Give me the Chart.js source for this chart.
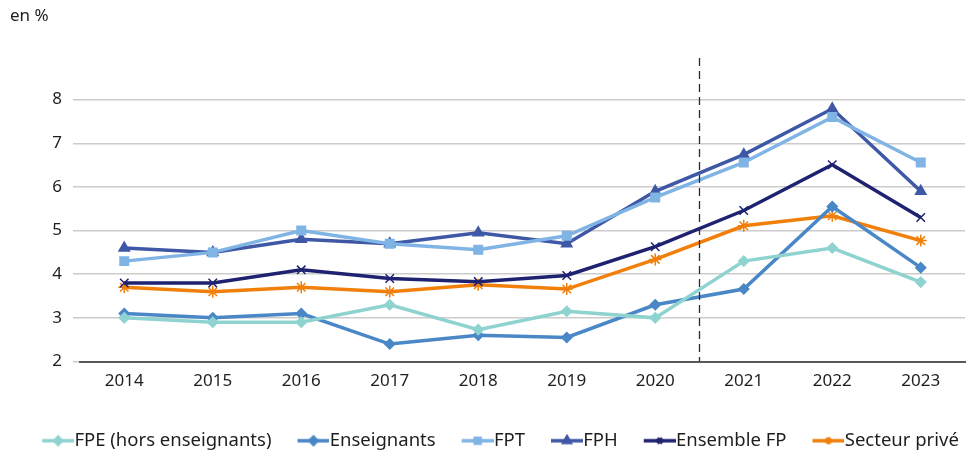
<!DOCTYPE html>
<html>
<head>
<meta charset="utf-8">
<script src="https://cdn.jsdelivr.net/npm/chart.js@4"></script>
<style>
  body { margin: 0; background: #fff; }
  #wrap { position: relative; width: 977px; height: 452px; }
  #unit { position: absolute; left: 10px; top: 3px; font: 17px "Noto Sans", sans-serif; color: #1e1e1e; }
</style>
</head>
<body>
<div id="wrap">
  <div id="unit">en %</div>
  <canvas id="chart" width="977" height="452"></canvas>
</div>
<script>
const years = ['2014', '2015', '2016', '2017', '2018', '2019', '2020', '2021', '2022', '2023'];
const fpe = [3.0, 2.9, 2.9, 3.3, 2.73, 3.15, 3.0, 4.3, 4.6, 3.82];
const enseignants = [3.1, 3.0, 3.1, 2.4, 2.6, 2.55, 3.3, 3.66, 5.55, 4.15];
const fpt = [4.3, 4.5, 5.0, 4.7, 4.56, 4.88, 5.76, 6.56, 7.6, 6.56];
const fph = [4.6, 4.5, 4.8, 4.7, 4.95, 4.7, 5.9, 6.74, 7.79, 5.9];
const ensemble = [3.8, 3.8, 4.1, 3.9, 3.83, 3.97, 4.63, 5.46, 6.51, 5.3];
const prive = [3.7, 3.6, 3.7, 3.6, 3.76, 3.66, 4.34, 5.11, 5.34, 4.77];
const yTicks = [2, 3, 4, 5, 6, 7, 8];

function serie(label, data, color, style, radius) {
    return {
        label: label,
        data: data,
        borderColor: color,
        backgroundColor: color,
        pointBackgroundColor: color,
        pointBorderColor: color,
        pointStyle: style,
        pointRadius: radius,
        pointBorderWidth: 1.5,
        borderWidth: 3.5,
        tension: 0
    };
}

const datasets = [
    serie('FPE (hors enseignants)', fpe, '#8fd3d1', 'rectRot', 5),
    serie('Enseignants', enseignants, '#4a87c7', 'rectRot', 5),
    serie('FPT', fpt, '#7fb4e4', 'rect', 6),
    serie('FPH', fph, '#3f58a6', 'triangle', 6),
    serie('Ensemble FP', ensemble, '#1f2270', 'crossRot', 6),
    serie('Secteur privé', prive, '#f17f0a', 'star', 6)
];

// legend icon: blank space on the left (item gap), then a 32px line with marker
// that ends where the label text starts
const ICON_BOX = 47;
function legendIcon(ds) {
    const w = ICON_BOX + 18;
    const c = document.createElement('canvas');
    c.width = w; c.height = 14;
    const ctx = c.getContext('2d');
    ctx.strokeStyle = ds.borderColor;
    ctx.lineWidth = 3.5;
    ctx.beginPath(); ctx.moveTo(w - 32, 7); ctx.lineTo(w, 7); ctx.stroke();
    ctx.fillStyle = ds.borderColor;
    Chart.helpers.drawPoint(ctx, {
        pointStyle: ds.pointStyle, radius: 3.5, borderWidth: 1.5
    }, w - 16, 7);
    return c;
}

const dashedLine = {
    id: 'dashedLine',
    afterDatasetsDraw(chart) {
        const x = chart.scales.x;
        const y = chart.scales.y;
        const px = (x.getPixelForValue(6) + x.getPixelForValue(7)) / 2;
        const ctx = chart.ctx;
        ctx.save();
        ctx.strokeStyle = '#2a2a2a';
        ctx.lineWidth = 1.3;
        ctx.setLineDash([8, 5]);
        ctx.beginPath();
        ctx.moveTo(px, y.getPixelForValue(9) + 2);
        ctx.lineTo(px, y.getPixelForValue(2));
        ctx.stroke();
        ctx.restore();
    }
};

new Chart(document.getElementById('chart'), {
    type: 'line',
    data: { labels: years, datasets: datasets },
    plugins: [dashedLine],
    options: {
        responsive: false,
        animation: false,
        layout: { padding: { left: 0, right: 0, top: 56, bottom: -8 } },
        plugins: {
            tooltip: { enabled: false },
            legend: {
                position: 'bottom',
                labels: {
                    font: { family: 'Noto Sans', size: 18.5 },
                    color: '#1e1e1e',
                    usePointStyle: true,
                    pointStyleWidth: ICON_BOX,
                    padding: 2,
                    generateLabels(chart) {
                        return chart.data.datasets.map((ds, i) => ({
                            text: ds.label,
                            pointStyle: legendIcon(ds),
                            fillStyle: ds.borderColor,
                            strokeStyle: ds.borderColor,
                            lineWidth: 0,
                            fontColor: '#1e1e1e',
                            datasetIndex: i
                        }));
                    }
                }
            }
        },
        scales: {
            x: {
                offset: true,
                grid: { display: false, drawTicks: false },
                border: { color: '#595959', width: 2 },
                ticks: { font: { family: 'Noto Sans', size: 17 }, color: '#1e1e1e', padding: 9 },
                afterFit(axis) { axis.height = 68; }
            },
            y: {
                min: 2,
                max: 9,
                afterBuildTicks(axis) { axis.ticks = yTicks.map(v => ({ value: v })); },
                grid: { color: '#cccccc', lineWidth: 1.5, drawTicks: true, tickLength: 7, tickColor: '#cccccc' },
                border: { display: false },
                ticks: { font: { family: 'Noto Sans', size: 17 }, color: '#1e1e1e', padding: 11 },
                afterFit(axis) { axis.width = 80; }
            },
            // empty right margin so the plot stops where the reference does
            yRight: {
                position: 'right',
                min: 2,
                max: 9,
                grid: { display: false, drawTicks: false },
                border: { display: false },
                ticks: { display: false },
                afterFit(axis) { axis.width = 12; }
            }
        }
    }
});
</script>
</body>
</html>
